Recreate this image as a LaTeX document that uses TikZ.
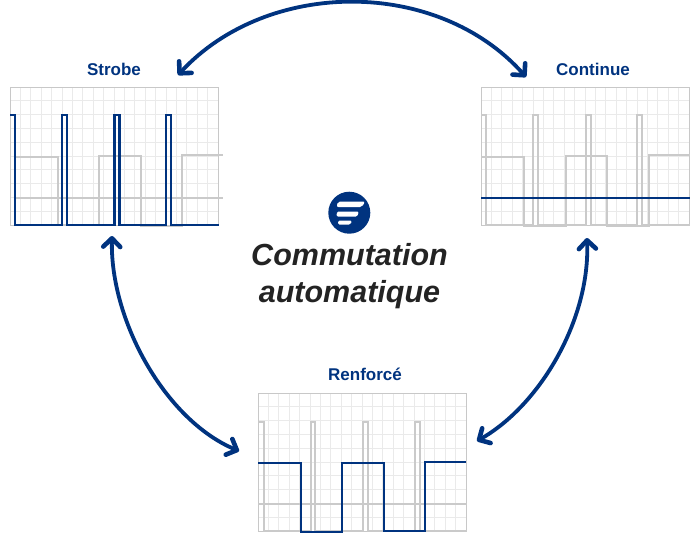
\documentclass[tikz,border=0pt]{standalone}
\usepackage{fontspec}
\setmainfont{Liberation Sans}
\usetikzlibrary{arrows.meta}
\definecolor{navy}{HTML}{00337F}
\definecolor{gridlt}{HTML}{EAEAEA}
\definecolor{gridframe}{HTML}{C8C8C8}
\definecolor{tracegray}{HTML}{CACACA}
\definecolor{ink}{HTML}{232323}
\tikzset{
  x=1pt,y=-1pt,
  gridline/.style={gridlt,line width=1pt},
  frameline/.style={gridframe,line width=1pt},
  traceoff/.style={tracegray,line width=2pt,line join=miter},
  traceon/.style={navy,line width=2.2pt,line join=miter},
  barbtip/.tip={Straight Barb[length=8.5pt,width=17pt,line width=4.6pt,round=false]},
  swaparrow/.style={navy,line width=3.8pt,barbtip-barbtip},
  paneltitle/.style={text=navy,font=\fontsize{17}{20}\selectfont\bfseries,inner sep=0pt,anchor=base},
  headline/.style={text=ink,font=\fontsize{30.5}{36}\selectfont\bfseries\itshape,inner sep=0pt,anchor=base},
}
\newcommand{\panelgrid}[2]{%
  \begin{scope}[shift={(#1,#2)}]
    \foreach \gx in {10.4,20.8,...,200} {\draw[gridline] (\gx,0) -- (\gx,138);}
    \foreach \gy in {13.8,27.6,...,130} {\draw[gridline] (0,\gy) -- (208.5,\gy);}
    \draw[frameline] (0,0) rectangle (208.5,138);
  \end{scope}}
\newcommand{\pulsepath}{(0,28) -- (5,28) -- (5,138) -- (52,138) -- (52,28) -- (57,28) -- (57,138) -- (104.5,138) -- (104.5,28) -- (109.5,28) -- (109.5,138) -- (156.3,138) -- (156.3,28) -- (161.3,28) -- (161.3,138) -- (208.5,138)}
\begin{document}
\begin{tikzpicture}
\useasboundingbox (0,0) rectangle (700,542);
% Strobe
\panelgrid{10}{87}
\begin{scope}[shift={(10,87)}]
  \draw[traceoff] (5,70) -- (47.5,70) -- (47.5,138) -- (89.3,138) -- (89.3,69) -- (130.7,69) -- (130.7,139) -- (172,139) -- (172,68) -- (213,68);
  \draw[traceoff] (5,111) -- (213,111);
  \draw[traceon] \pulsepath;
\end{scope}
% Continue
\panelgrid{481}{87}
\begin{scope}[shift={(481,87)}]
  \draw[traceoff] \pulsepath;
  \draw[traceoff] (0,70) -- (43,70) -- (43,139) -- (85,139) -- (85,69) -- (126,69) -- (126,139) -- (167.5,139) -- (167.5,68) -- (208.5,68);
  \draw[traceon] (0,110.7) -- (208.5,110.7);
\end{scope}
% Renforce
\panelgrid{258}{393}
\begin{scope}[shift={(258,393)}]
  \draw[traceoff] (0,28.7) -- (6,28.7) -- (6,138) -- (52.7,138) -- (52.7,28.7) -- (57.3,28.7) -- (57.3,138) -- (105.3,138) -- (105.3,28.7) -- (110,28.7) -- (110,138) -- (157.3,138) -- (157.3,28.7) -- (162,28.7) -- (162,138) -- (208.5,138);
  \draw[traceoff] (0,111) -- (208.5,111);
  \draw[traceon] (0,70) -- (42.7,70) -- (42.7,139) -- (84.3,139) -- (84.3,69.7) -- (126,69.7) -- (126,138) -- (167.3,138) -- (167.3,68.7) -- (208,68.7);
\end{scope}
% titles
\node[paneltitle] (strobe) at (114,75) {Strobe};
\node[paneltitle] (continue) at (593,75) {Continue};
\node[paneltitle] (renforce) at (365,380.5) {Renforcé};
% arrows
\coordinate (topL) at (178,75);
\coordinate (topR) at (526,77);
\coordinate (leftT) at (112,236);
\coordinate (leftB) at (239,451);
\coordinate (rightT) at (587,238);
\coordinate (rightB) at (477,441);
\draw[swaparrow] (topL) .. controls (268,-22) and (438,-22) .. (topR);
\draw[swaparrow] (leftT) .. controls (110,320) and (165,420) .. (leftB);
\draw[swaparrow] (rightT) .. controls (590,320) and (540,405) .. (rightB);
% logo
\fill[navy] (349.3,212.7) circle[radius=21];
\fill[white,rounded corners=2pt] (338,201.5) -- (365,201.5) -- (362,207) -- (336.5,207) -- cycle;
\fill[white,rounded corners=1.5pt] (337,211.5) -- (359,211.5) -- (357,216.7) -- (336.5,216.7) -- cycle;
\fill[white,rounded corners=1.5pt] (338,220.5) -- (352,220.5) -- (350.5,224.5) -- (338,224.5) -- cycle;
% headline
\node[headline] (h1) at (349.5,265) {Commutation};
\node[headline] (h2) at (349.5,302) {automatique};
\end{tikzpicture}
\end{document}
